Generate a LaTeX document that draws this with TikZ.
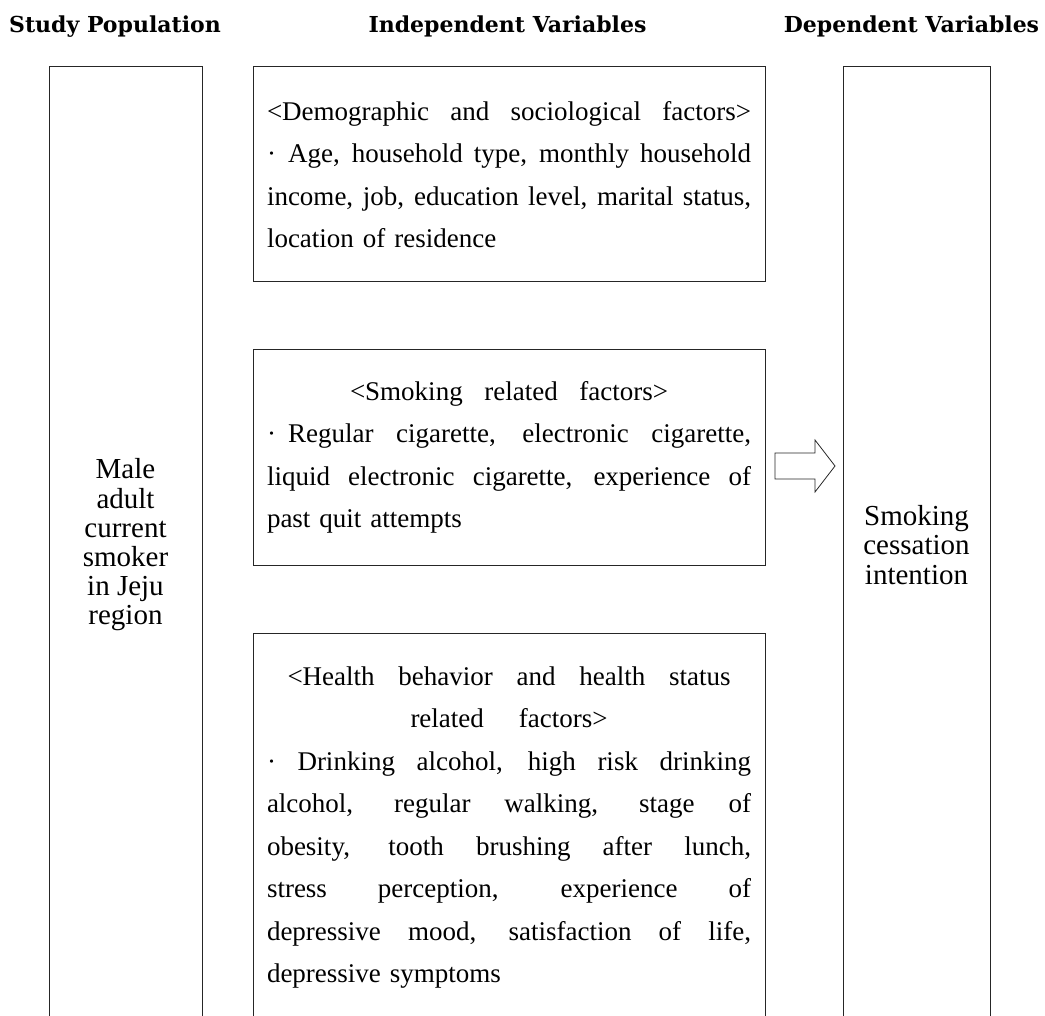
\documentclass[tikz,border=0pt]{standalone}
\usepackage{fontspec}
\setmainfont{Liberation Serif}
\newfontfamily\hdfont{DejaVu Serif}
\newcommand\jlin[1]{\leavevmode\hbox to 484pt{\spaceskip=.25em plus 1fil\relax\xspaceskip=\spaceskip #1}}
\newcommand\wlin[2]{\makebox[484pt][c]{\hbox to #1{\spaceskip=.25em plus 1fil\relax\xspaceskip=\spaceskip #2}}}
\newcommand\llin[1]{\makebox[484pt][l]{#1}}
\begin{document}
\begin{tikzpicture}[x=1pt,y=-1pt,
  frame/.style={draw=black!85, line width=1pt, inner sep=0pt},
  head/.style={font=\hdfont\bfseries\fontsize{22}{22}\selectfont, anchor=base, inner sep=0pt},
  midtext/.style={font=\fontsize{27}{42.5}\selectfont, align=left, inner sep=0pt, text width=484pt},
  sidetext/.style={font=\fontsize{29}{29.2}\selectfont, align=center, inner sep=0pt}]
\useasboundingbox (0,0) rectangle (1045,1016);
\clip (0,0) rectangle (1045,1016);

% boxes
\node[frame, minimum width=153pt, minimum height=956pt] (pop) at (125.5,545) {};
\node[frame, minimum width=512pt, minimum height=215pt] (demo) at (509,174.5) {};
\node[frame, minimum width=512pt, minimum height=215pt] (smk) at (509,457.5) {};
\node[frame, minimum width=512pt, minimum height=389pt] (hlth) at (509,827.5) {};
\node[frame, minimum width=147pt, minimum height=956pt] (dep) at (916.5,545) {};

% headers
\node[head] (h1) at (115,33) {Study Population};
\node[head] (h2) at (507.5,33) {Independent Variables};
\node[head] (h3) at (911.5,33) {Dependent Variables};

% texts
\node[sidetext] (tpop) at (pop.center) {Male\\adult\\current\\smoker\\in Jeju\\region};
\node[sidetext] (tdep) at (dep.center) {Smoking\\cessation\\intention};

\node[midtext] (tdemo) at (demo.center) {\jlin{<Demographic and sociological factors>}\\
\jlin{·\hspace{0.45em}Age, household type, monthly household}\\
\jlin{income, job, education level, marital status,}\\
\llin{location of residence}};

\node[midtext] (tsmk) at (smk.center) {\wlin{318pt}{<Smoking related factors>}\\
\jlin{·\hspace{0.45em}Regular cigarette, electronic cigarette,}\\
\jlin{liquid electronic cigarette, experience of}\\
\llin{past quit attempts}};

\node[midtext] (thlth) at (hlth.center) {\wlin{443pt}{<Health behavior and health status}\\
\wlin{197pt}{related factors>}\\
\jlin{· Drinking alcohol, high risk drinking}\\
\jlin{alcohol, regular walking, stage of}\\
\jlin{obesity, tooth brushing after lunch,}\\
\jlin{stress perception, experience of}\\
\jlin{depressive mood, satisfaction of life,}\\
\llin{depressive symptoms}};

% block arrow
\draw[line width=0.8pt, draw=black!85] (775,453) -- (815,453) -- (815,440) -- (835,466) -- (815,492) -- (815,479) -- (775,479) -- cycle;
\end{tikzpicture}
\end{document}
